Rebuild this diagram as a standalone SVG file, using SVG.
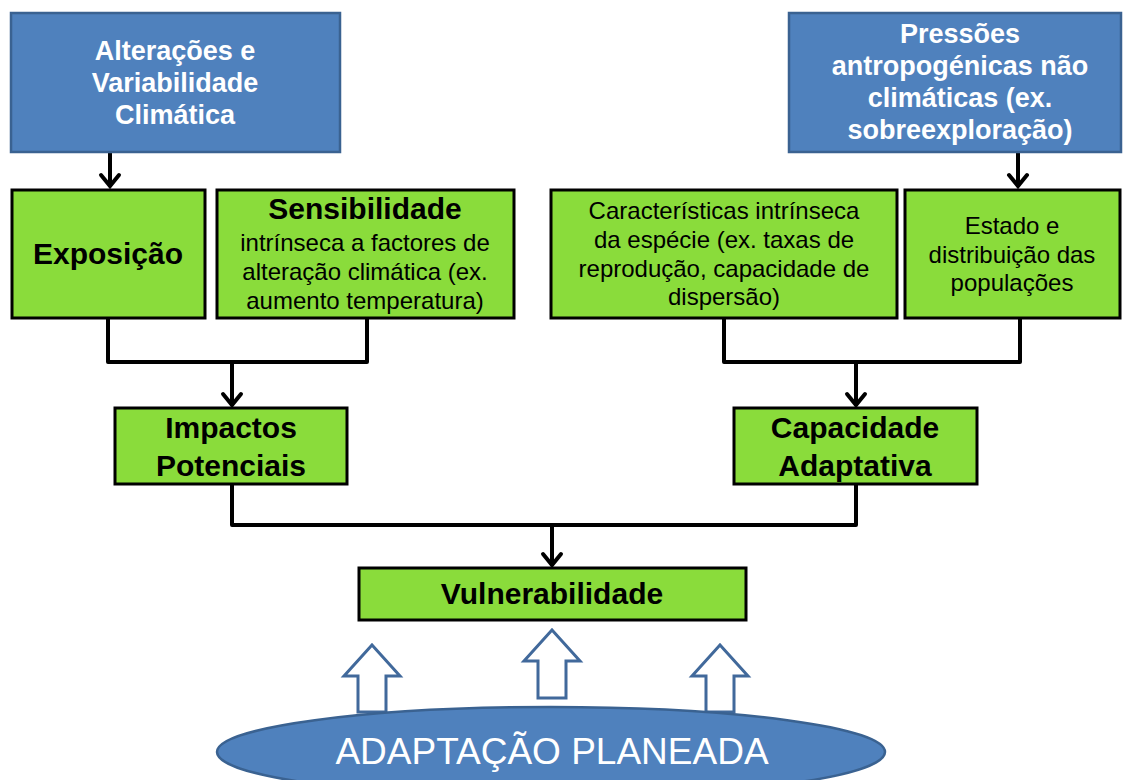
<svg xmlns="http://www.w3.org/2000/svg" width="1123" height="780" viewBox="0 0 1123 780">
<style>
.blue{fill:#4F81BD;stroke:#3A6291;stroke-width:2.5}
.green{fill:#8ADC3B;stroke:#000;stroke-width:3}
.wt{font-family:"Liberation Sans",Arial,sans-serif;font-weight:bold;font-size:27px;fill:#fff;text-anchor:middle}
.bt{font-family:"Liberation Sans",Arial,sans-serif;font-weight:bold;font-size:30px;fill:#000;text-anchor:middle}
.rt{font-family:"Liberation Sans",Arial,sans-serif;font-size:24px;fill:#000;text-anchor:middle}
.conn{fill:none;stroke:#000;stroke-width:4;stroke-linejoin:round}
.hollow{fill:#fff;stroke:#41699B;stroke-width:3;stroke-linejoin:miter}
</style>
<defs>
<marker id="chev" markerUnits="userSpaceOnUse" markerWidth="30" markerHeight="30" viewBox="-15 -15 30 30" refX="1" refY="0" orient="auto">
<path d="M-11,-9 L0,0 L-11,9" fill="none" stroke="#000" stroke-width="4" stroke-linecap="round" stroke-linejoin="miter"/>
</marker>
</defs>
<rect width="1123" height="780" fill="#fff"/>

<g id="connectors">
<line class="conn" x1="110" y1="152" x2="110" y2="187" marker-end="url(#chev)"/>
<line class="conn" x1="1018" y1="152" x2="1018" y2="187" marker-end="url(#chev)"/>
<polyline class="conn" points="108,318 108,362 367,362 367,318"/>
<line class="conn" x1="232" y1="362" x2="232" y2="406" marker-end="url(#chev)"/>
<polyline class="conn" points="724,318 724,362 1020,362 1020,318"/>
<line class="conn" x1="856" y1="362" x2="856" y2="406" marker-end="url(#chev)"/>
<polyline class="conn" points="232,484 232,525 856,525 856,484"/>
<line class="conn" x1="552" y1="525" x2="552" y2="566" marker-end="url(#chev)"/>
<path class="hollow" d="M372,645 L400,676 L386,676 L386,712 L358,712 L358,676 L344,676 Z"/>
<path class="hollow" d="M552,630 L580,661 L566,661 L566,698 L538,698 L538,661 L524,661 Z"/>
<path class="hollow" d="M720,645 L748,676 L734,676 L734,712 L706,712 L706,676 L692,676 Z"/>
</g>

<g id="alteracoes">
<rect class="blue" x="11" y="13" width="329" height="139"/>
<text class="wt" x="175" y="60">Alterações e</text>
<text class="wt" x="175" y="92">Variabilidade</text>
<text class="wt" x="175" y="124">Climática</text>
</g>

<g id="pressoes">
<rect class="blue" x="789" y="13" width="332" height="139"/>
<text class="wt" x="960" y="43">Pressões</text>
<text class="wt" x="960" y="75">antropogénicas não</text>
<text class="wt" x="960" y="107">climáticas (ex.</text>
<text class="wt" x="960" y="139">sobreexploração)</text>
</g>

<g id="exposicao">
<rect class="green" x="12" y="190" width="193" height="128"/>
<text class="bt" x="108" y="264">Exposição</text>
</g>

<g id="sensibilidade">
<rect class="green" x="217" y="190" width="297" height="128"/>
<text class="bt" x="365" y="219">Sensibilidade</text>
<text class="rt" x="365" y="251">intrínseca a factores de</text>
<text class="rt" x="365" y="280">alteração climática (ex.</text>
<text class="rt" x="365" y="309">aumento temperatura)</text>
</g>

<g id="caracteristicas">
<rect class="green" x="551" y="190" width="346" height="128"/>
<text class="rt" x="724" y="219">Características intrínseca</text>
<text class="rt" x="724" y="248">da espécie (ex. taxas de</text>
<text class="rt" x="724" y="277">reprodução, capacidade de</text>
<text class="rt" x="724" y="305">dispersão)</text>
</g>

<g id="estado">
<rect class="green" x="905" y="190" width="215" height="128"/>
<text class="rt" x="1012" y="234">Estado e</text>
<text class="rt" x="1012" y="263">distribuição das</text>
<text class="rt" x="1012" y="291">populações</text>
</g>

<g id="impactos">
<rect class="green" x="115" y="408" width="232" height="76"/>
<text class="bt" x="231" y="438">Impactos</text>
<text class="bt" x="231" y="476">Potenciais</text>
</g>

<g id="capacidade">
<rect class="green" x="734" y="408" width="243" height="76"/>
<text class="bt" x="855" y="438">Capacidade</text>
<text class="bt" x="855" y="476">Adaptativa</text>
</g>

<g id="vulnerabilidade">
<rect class="green" x="359" y="568" width="387" height="52"/>
<text class="bt" x="552" y="604">Vulnerabilidade</text>
</g>

<g id="adaptacao">
<ellipse cx="551" cy="752" rx="334" ry="45" fill="#4F81BD" stroke="#3A6291" stroke-width="2.5"/>
<text x="552" y="764" font-family="'Liberation Sans',Arial,sans-serif" font-size="37" fill="#fff" text-anchor="middle">ADAPTAÇÃO PLANEADA</text>
</g>
</svg>
